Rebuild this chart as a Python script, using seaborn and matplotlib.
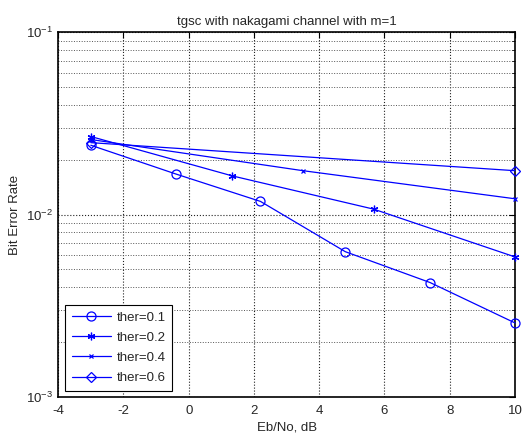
import numpy as np
import pandas as pd
import matplotlib
matplotlib.use("Agg")
import matplotlib.pyplot as plt
import seaborn as sns
from matplotlib.ticker import LogLocator, LogFormatterMathtext, MultipleLocator

# data
x_01 = [-3.0, -0.4, 2.2, 4.8, 7.4, 10.0]
ber_01 = [0.0240, 0.0167, 0.0118, 0.00625, 0.00423, 0.00254]
x_02 = [-3.0, 1.33, 5.67, 10.0]
ber_02 = [0.0268, 0.0163, 0.0107, 0.00585]
x_04 = [-3.0, 3.5, 10.0]
ber_04 = [0.0258, 0.0174, 0.0122]
x_06 = [-3.0, 10.0]
ber_06 = [0.0248, 0.0174]
labels = ["ther=0.1", "ther=0.2", "ther=0.4", "ther=0.6"]

sns.set_style("white")
plt.rcParams['font.family'] = ['Liberation Sans', 'DejaVu Sans']
plt.rcParams['mathtext.fontset'] = 'custom'
plt.rcParams['mathtext.rm'] = 'Liberation Sans'
plt.rcParams['mathtext.it'] = 'Liberation Sans'
plt.rcParams['mathtext.default'] = 'regular'
plt.rcParams['axes.unicode_minus'] = False

fig = plt.figure(figsize=(5.29, 4.34), dpi=100)
ax = fig.add_axes([0.110, 0.086, 0.8635, 0.8395])

blue = (0, 0, 1)
asterisk = (6, 2, 0)
styles = [
    (x_01, ber_01, 'o', 6.5),
    (x_02, ber_02, asterisk, 5.5),
    (x_04, ber_04, 'x', 3.5),
    (x_06, ber_06, 'D', 5.5),
]
for (xs, ys, mk, ms), lab in zip(styles, labels):
    sns.lineplot(x=xs, y=ys, ax=ax, color=blue, marker=mk, markersize=ms,
                 markerfacecolor='none', markeredgecolor=blue, markeredgewidth=0.9,
                 linewidth=0.9, label=lab, sort=False, clip_on=False, zorder=5)

ax.set_yscale('log')
ax.set_xlim(-4, 10)
ax.set_ylim(1e-3, 1e-1)
ax.xaxis.set_major_locator(MultipleLocator(2))
ax.yaxis.set_major_locator(LogLocator(base=10, numticks=5))
ax.yaxis.set_major_formatter(LogFormatterMathtext())
ax.yaxis.set_minor_locator(LogLocator(base=10, subs=np.arange(2, 10), numticks=20))

ax.grid(True, which='major', color='#222222', linestyle=':', linewidth=0.8)
ax.grid(True, which='minor', axis='y', color='#555555', linestyle=':', linewidth=0.7)
ax.tick_params(which='both', direction='in', top=True, right=True, labelsize=9.5,
               color='black')
ax.tick_params(which='major', length=4)
ax.tick_params(which='minor', length=2)
ax.tick_params(axis='x', pad=6)
for s in ax.spines.values():
    s.set_color('black')
    s.set_linewidth(1.2)

ax.set_title("tgsc with nakagami channel with m=1", fontsize=9.5, pad=5)
ax.set_xlabel("Eb/No, dB", fontsize=9.5, labelpad=3)
ax.set_ylabel("Bit Error Rate", fontsize=9.5, labelpad=4)

leg = ax.legend(loc='lower left', fontsize=9.5, frameon=True, fancybox=False,
                edgecolor='black', framealpha=1, borderpad=0.5, handlelength=3.0,
                handletextpad=0.4, labelspacing=0.6, borderaxespad=0,
                bbox_to_anchor=(0.015, 0.016))
leg.get_frame().set_linewidth(0.8)

fig.savefig("out.png", dpi=100)
